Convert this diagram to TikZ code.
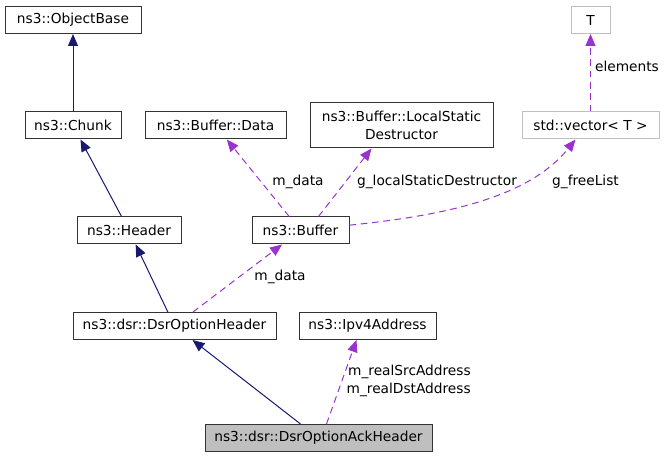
\documentclass[tikz,border=0pt]{standalone}
\usepackage{fontspec}
\setmainfont{DejaVu Sans}
\usetikzlibrary{arrows.meta}

\definecolor{navyEdge}{HTML}{191970}
\definecolor{orchidEdge}{HTML}{9A32CD}
\definecolor{boxGray}{HTML}{BFBFBF}
\def\inheritColor{navyEdge}
\def\usageColor{orchidEdge}

\begin{document}
\begin{tikzpicture}[x=0.75pt,y=-0.75pt,
    font=\fontsize{10.3pt}{13.5pt}\selectfont,
    cls/.style={draw=black!80, line width=0.75pt, minimum height=20.25pt, inner sep=0pt},
    ghost/.style={cls, draw=boxGray},
    current/.style={cls, fill=boxGray},
    inherit/.style={draw=\inheritColor, line width=0.75pt, -{Triangle[length=9pt,width=7.5pt]}},
    usage/.style={draw=\usageColor, line width=0.75pt, dash pattern=on 5pt off 3.5pt, -{Triangle[length=9pt,width=7.5pt]}},
    lbl/.style={inner sep=0pt, align=center}]
    % Define parameters
    \def\xmax{665}
    \def\ymax{459}
    \useasboundingbox (0,0) rectangle (\xmax,\ymax);

    \node[cls, minimum width=102pt] (objBase) at (73,20) {ns3::ObjectBase};
    \node[cls, minimum width=72pt] (chunk) at (73,125.5) {ns3::Chunk};
    \node[cls, minimum width=105.75pt] (bufData) at (215.5,125.5) {ns3::Buffer::Data};
    \node[cls, minimum width=137.25pt, minimum height=33.75pt, align=center] (lsd) at (401.5,125.5) {ns3::Buffer::LocalStatic\\Destructor};
    \node[ghost, minimum width=29.25pt] (elemT) at (590.5,20) {T};
    \node[ghost, minimum width=102.75pt] (vec) at (590.5,125.5) {std::vector< T >};
    \node[cls, minimum width=78pt] (header) at (129,230.5) {ns3::Header};
    \node[cls, minimum width=72.75pt] (buffer) at (300.5,230.5) {ns3::Buffer};
    \node[cls, minimum width=152.25pt] (optHeader) at (174.5,326) {ns3::dsr::DsrOptionHeader};
    \node[cls, minimum width=102.75pt] (ipv4) at (367.5,326) {ns3::Ipv4Address};
    \node[current, minimum width=170.25pt] (ackHeader) at (318.5,438) {ns3::dsr::DsrOptionAckHeader};

    % inheritance
    \draw[inherit] (chunk) -- (objBase);
    \draw[inherit] (header) -- (chunk);
    \draw[inherit] (optHeader) -- (header);
    \draw[inherit] (ackHeader) -- (optHeader);

    % usage
    \draw[usage] (buffer) -- (bufData);
    \draw[usage] ([xshift=13.5pt]buffer.north) -- ([xshift=-22.5pt]lsd.south);
    \draw[usage] ([yshift=4pt]buffer.east) .. controls (450,215) and (530,196) .. ([xshift=-11.25pt]vec.south);
    \draw[usage] (vec) -- (elemT);
    \draw[usage] (optHeader) -- (buffer);
    \draw[usage] ([xshift=6pt]ackHeader.north) -- ([xshift=-8.25pt]ipv4.south);

    \node[lbl] (lblData) at (298,182) {m\_data};
    \node[lbl] (lblLsd) at (437,182) {g\_localStaticDestructor};
    \node[lbl] (lblFree) at (585.5,182) {g\_freeList};
    \node[lbl] (lblElem) at (627,66) {elements};
    \node[lbl] (lblBufData) at (280,277) {m\_data};
    \node[lbl, anchor=east, align=right] (lblAddr) at (471,381) {m\_realSrcAddress\\m\_realDstAddress};
\end{tikzpicture}
\end{document}
